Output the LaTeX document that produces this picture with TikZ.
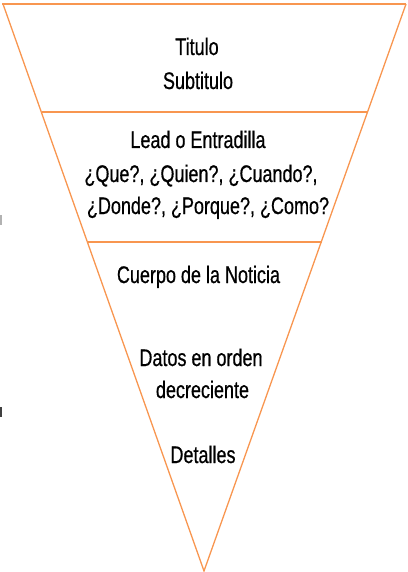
\documentclass[tikz,border=0pt]{standalone}
\usepackage{fontspec}
\setmainfont{Liberation Sans}[FakeStretch=0.75,FakeBold=0.6]
\definecolor{lineor}{RGB}{248,150,80}
\begin{document}
\begin{tikzpicture}[x=1pt,y=-1pt,
  lbl/.style={anchor=base,inner sep=0pt,font=\fontsize{24}{28}\selectfont},
  edge/.style={draw=lineor,line width=1.3pt},
  band/.style={draw=lineor,line width=1.9pt}]
\useasboundingbox (0,0) rectangle (407,572);
\coordinate (tl) at (3,4);
\coordinate (tr) at (406,4);
\coordinate (ap) at (204,571);
\coordinate (l1) at (41.5,112);
\coordinate (r1) at (367.5,112);
\coordinate (l2) at (87.5,242);
\coordinate (r2) at (321.5,242);
\draw[edge] (tl) -- (ap) -- (tr);
\draw[band] (2,4) -- (tr);
\draw[band] (l1) -- (r1);
\draw[band] (l2) -- (r2);
\fill[gray!60] (0,215) rectangle (1.5,225);
\fill[black!75] (0,407) rectangle (1.5,417);
\node[lbl] (t1) at (197,55) {Titulo};
\node[lbl] (t2) at (198,89) {Subtitulo};
\node[lbl] (t3) at (198,148) {Lead o Entradilla};
\node[lbl] (t4) at (201,182) {¿Que?, ¿Quien?, ¿Cuando?,};
\node[lbl] (t5) at (208,214) {¿Donde?, ¿Porque?, ¿Como?};
\node[lbl] (t6) at (198.5,283) {Cuerpo de la Noticia};
\node[lbl] (t7) at (201,366) {Datos en orden};
\node[lbl] (t8) at (202.5,398) {decreciente};
\node[lbl] (t9) at (203,463) {Detalles};
\end{tikzpicture}
\end{document}
